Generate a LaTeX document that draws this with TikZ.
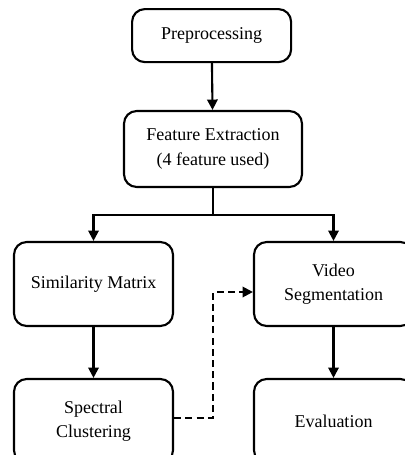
\documentclass[tikz,border=0pt]{standalone}
\usepackage{fontspec}
\setmainfont{Liberation Serif}
\usepackage{tikz}
\usetikzlibrary{arrows.meta, positioning, calc}
\tikzset{
  box/.style={rectangle, draw, line width=1.5pt, minimum width=3.975cm, minimum height=2.1cm, align=center, rounded corners=9pt, inner sep=2pt},
  arrow/.style={-{Triangle[length=2.6mm, width=2.6mm]}, line width=1.5pt},
  darrow/.style={-{Triangle[length=2.6mm, width=2.6mm]}, line width=1.5pt, dash pattern=on 5pt off 3pt},
}

\begin{document}
\begin{tikzpicture}[font=\fontsize{12.8}{17.5}\selectfont]
  \useasboundingbox (0,0) rectangle (10.1,-11.375);
  \node[box, minimum height=1.325cm] (prep) at (5.29, -0.89) {Preprocessing};
  \node[box, minimum width=4.45cm, minimum height=1.9cm] (feat) at (5.325, -3.725) {Feature Extraction\\(4 feature used)};
  \node[box] (sim) at (2.3375, -7.1) {Similarity Matrix};
  \node[box] (video) at (8.3375, -7.1) {Video\\Segmentation};
  \node[box] (spec) at (2.3375, -10.525) {Spectral\\Clustering};
  \node[box] (eval) at (8.3375, -10.525) {Evaluation};
  \draw[arrow] (prep) -- (feat);
  \draw[line width=1.5pt] (feat.south) -- ++(0,-0.675) coordinate (split);
  \draw[arrow] (split) -| (sim.north);
  \draw[arrow] (split) -| (video.north);
  \draw[arrow] (sim) -- (spec);
  \draw[arrow] (video) -- (eval);
  \draw[darrow] ([yshift=0.075cm]spec.east) -- ++(0.975,0) |- ([yshift=-0.2cm]video.west);
\end{tikzpicture}
\end{document}
